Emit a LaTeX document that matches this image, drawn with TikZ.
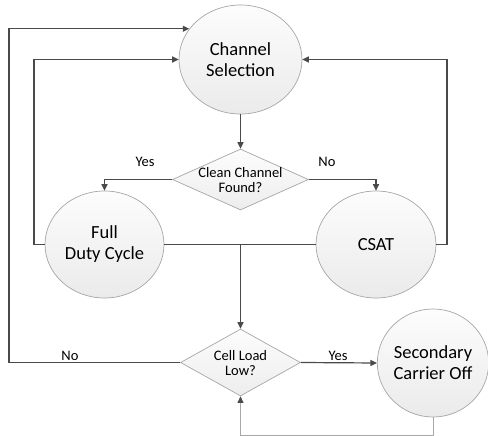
\documentclass[tikz,border=0pt]{standalone}
\usepackage{fontspec}
\setmainfont{Carlito}
\usetikzlibrary{shapes.geometric,arrows.meta}
\definecolor{linec}{HTML}{4A4A4A}
\definecolor{borderc}{HTML}{A6A6A6}
\definecolor{lightc}{HTML}{A8A8A8}
\tikzset{
  state/.style={ellipse, draw=borderc, line width=0.7pt, top color=gray!2, bottom color=gray!16, inner sep=0pt, align=center, font=\fontsize{18.5}{21}\selectfont, text=black},
  decision/.style={diamond, draw=borderc, line width=0.7pt, top color=gray!2, bottom color=gray!14, inner sep=0pt},
  dtext/.style={align=center, font=\fontsize{14.5}{15}\selectfont, text=black},
  lbl/.style={font=\fontsize{14.5}{16}\selectfont, text=black},
  conn/.style={draw=linec, line width=1.2pt},
  arr/.style={conn, -{Triangle[length=6.5pt,width=6pt]}}
}
\begin{document}
\begin{tikzpicture}[x=1pt,y=-1pt]
\useasboundingbox (0,0) rectangle (488,436);
% nodes
\node[state, minimum width=123pt, minimum height=109pt] (cs) at (240.5,59.5) {Channel\\Selection};
\node[decision, minimum width=136pt, minimum height=61pt] (d1) at (240.5,179.5) {};
\node[dtext] (d1t) at (240.5,180) {Clean Channel\\Found?};
\node[state, minimum width=119pt, minimum height=107pt] (fd) at (104.5,244.5) {Full\\Duty Cycle};
\node[state, minimum width=120pt, minimum height=107pt] (csat) at (376,244.5) {CSAT};
\node[decision, minimum width=120pt, minimum height=67pt] (d2) at (240.5,362.5) {};
\node[dtext] (d2t) at (240.5,363) {Cell Load\\Low?};
\node[state, minimum width=111pt, minimum height=108pt] (sc) at (433,363) {Secondary\\Carrier Off};
% helper coordinates
\coordinate (xl1) at (9,0);
\coordinate (xl2) at (34,0);
\coordinate (xr1) at (447,0);
\coordinate (yb) at (0,435);
% connectors
\draw[arr] (cs.south) -- (d1.north);
\draw[arr] (d1.west) -| (fd.north);
\draw[arr] (d1.east) -| (csat.north);
\draw[conn] (fd.east) -- (csat.west);
\draw[arr] (fd.east -| d2.north) -- (d2.north);
\draw[arr] (fd.west) -- (xl2 |- fd.west) |- (cs.west);
\draw[arr] (csat.east) -- (xr1 |- csat.east) |- (cs.east);
\draw[arr] (d2.west) -- (xl1 |- d2.west) |- (cs.149.1);
\draw[arr] (d2.east) -- (sc.west);
\draw[draw=lightc, line width=0.8pt, -{Triangle[length=6.5pt,width=6pt,color=linec]}] (sc.south) -- (sc.south |- yb) -| (d2.south);
% labels
\node[lbl] (ly1) at (145,162) {Yes};
\node[lbl] (ln1) at (327,162) {No};
\node[lbl] (ln2) at (70,356) {No};
\node[lbl] (ly2) at (338,356) {Yes};
\end{tikzpicture}
\end{document}
